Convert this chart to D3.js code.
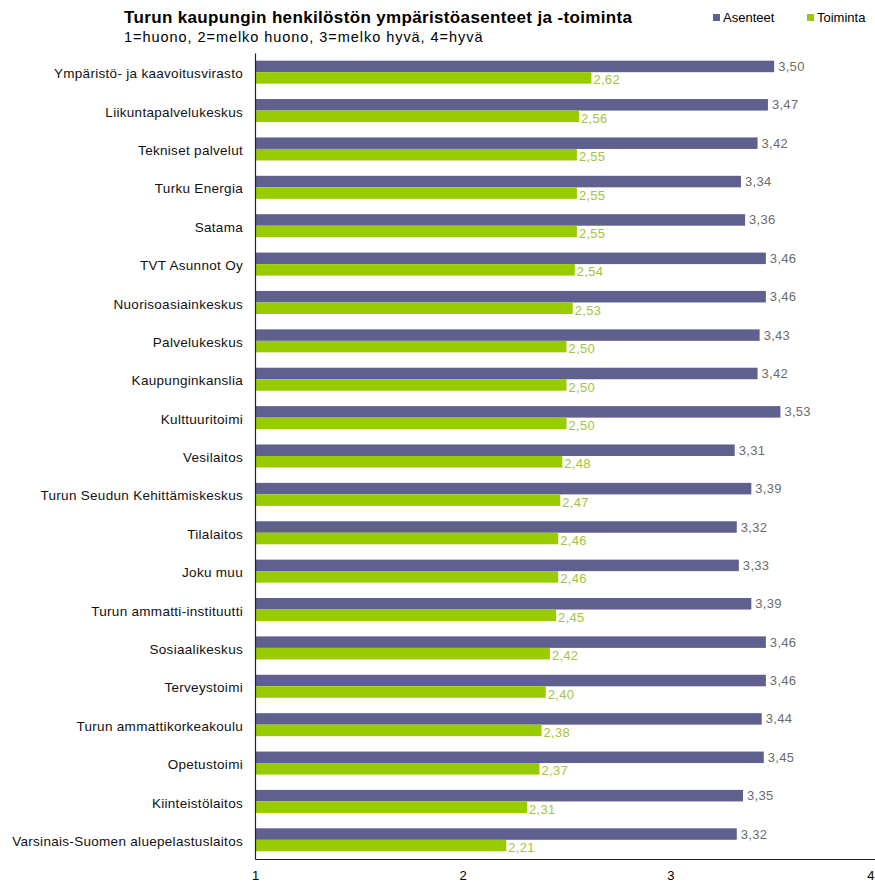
<!DOCTYPE html>
<html>
<head>
<meta charset="utf-8">
<script src="https://cdn.jsdelivr.net/npm/d3@7"></script>
<style>
  html, body { margin: 0; padding: 0; background: #fff; }
  svg { display: block; font-family: "Liberation Sans", Arial, sans-serif; }
</style>
</head>
<body>
<svg id="chart" width="875" height="883"></svg>
<script>
// Units (departments) of the City of Turku
const categories = [
  "Ympäristö- ja kaavoitusvirasto",
  "Liikuntapalvelukeskus",
  "Tekniset palvelut",
  "Turku Energia",
  "Satama",
  "TVT Asunnot Oy",
  "Nuorisoasiainkeskus",
  "Palvelukeskus",
  "Kaupunginkanslia",
  "Kulttuuritoimi",
  "Vesilaitos",
  "Turun Seudun Kehittämiskeskus",
  "Tilalaitos",
  "Joku muu",
  "Turun ammatti-instituutti",
  "Sosiaalikeskus",
  "Terveystoimi",
  "Turun ammattikorkeakoulu",
  "Opetustoimi",
  "Kiinteistölaitos",
  "Varsinais-Suomen aluepelastuslaitos"
];

const seriesNames = ["Asenteet", "Toiminta"];

// Mean attitude score
const asenteet = [3.50, 3.47, 3.42, 3.34, 3.36, 3.46, 3.46, 3.43, 3.42, 3.53, 3.31,
                  3.39, 3.32, 3.33, 3.39, 3.46, 3.46, 3.44, 3.45, 3.35, 3.32];
// Mean action score
const toiminta = [2.62, 2.56, 2.55, 2.55, 2.55, 2.54, 2.53, 2.50, 2.50, 2.50, 2.48,
                  2.47, 2.46, 2.46, 2.45, 2.42, 2.40, 2.38, 2.37, 2.31, 2.21];

const xTicks = [1, 2, 3, 4];

const titleText = "Turun kaupungin henkilöstön ympäristöasenteet ja -toiminta";
const subtitleText = "1=huono, 2=melko huono, 3=melko hyvä, 4=hyvä";

const colors = { Asenteet: "#60608f", Toiminta: "#99cc00" };
const labelColors = { Asenteet: "#6b6b6b", Toiminta: "#a3c43a" };

const fi = d3.formatLocale({ decimal: ",", thousands: "\u00a0", grouping: [3], currency: ["", " €"] });
const fmt = fi.format(".2f");

const rows = categories.map((c, i) => ({
  name: c,
  values: [
    { key: "Asenteet", value: asenteet[i] },
    { key: "Toiminta", value: toiminta[i] }
  ]
}));

const W = 875;
const svg = d3.select("#chart");

const plot = { left: 255, right: 878, top: 53, bottom: 859 };

const x = d3.scaleLinear().domain([1, 4]).range([plot.left, plot.right]);
const y = d3.scaleBand().domain(categories).range([plot.top, plot.bottom]).padding(0);
const ySub = d3.scaleBand().domain(seriesNames)
  .range([y.bandwidth() * 0.2, y.bandwidth() * 0.8]).padding(0);

// Title and subtitle
svg.append("text")
  .attr("x", 124).attr("y", 23)
  .attr("font-size", 17).attr("font-weight", "bold").attr("fill", "#000")
  .attr("letter-spacing", 0.35)
  .text(titleText);
svg.append("text")
  .attr("x", 124).attr("y", 42)
  .attr("font-size", 14.5).attr("fill", "#000")
  .attr("letter-spacing", 0.95)
  .text(subtitleText);

// Legend
const legend = svg.append("g");
const legendPos = [{ key: "Asenteet", x: 713, tx: 723 }, { key: "Toiminta", x: 807, tx: 817 }];
legendPos.forEach(d => {
  legend.append("rect").attr("x", d.x).attr("y", 14).attr("width", 7).attr("height", 7)
    .attr("fill", colors[d.key]);
  legend.append("text").attr("x", d.tx).attr("y", 22)
    .attr("font-size", 13).attr("fill", "#000").text(d.key);
});

// Bars
const groups = svg.append("g").selectAll("g.row")
  .data(rows).join("g")
  .attr("class", "row")
  .attr("transform", d => `translate(0,${y(d.name)})`);

groups.selectAll("rect")
  .data(d => d.values).join("rect")
  .attr("x", x(1))
  .attr("y", d => ySub(d.key))
  .attr("width", d => x(d.value) - x(1))
  .attr("height", ySub.bandwidth())
  .attr("fill", d => colors[d.key]);

// Value labels
groups.selectAll("text.val")
  .data(d => d.values).join("text")
  .attr("class", "val")
  .attr("x", d => x(d.value) + (d.key === "Asenteet" ? 4 : 2))
  .attr("y", d => ySub(d.key) + ySub.bandwidth() / 2 + (d.key === "Asenteet" ? 0 : 2))
  .attr("dy", "0.35em")
  .attr("font-size", 13)
  .attr("letter-spacing", 0.3)
  .attr("fill", d => labelColors[d.key])
  .text(d => fmt(d.value));

// Category axis
const yAxis = svg.append("g")
  .attr("transform", `translate(${plot.left},0)`)
  .call(d3.axisLeft(y).tickSize(0).tickPadding(12));
yAxis.select(".domain").attr("stroke", "#222").attr("stroke-width", 1.2);
yAxis.selectAll("text")
  .attr("font-size", 13.5).attr("fill", "#111")
  .attr("letter-spacing", 0.3)
  .attr("dy", "0.45em")
  .attr("font-family", "Liberation Sans, Arial, sans-serif");

// Value axis
const xAxis = svg.append("g")
  .attr("transform", `translate(0,${plot.bottom})`)
  .call(d3.axisBottom(x).tickValues(xTicks).tickSize(0).tickPadding(12).tickFormat(d3.format("d")));
xAxis.select(".domain").attr("stroke", "#222").attr("stroke-width", 1.2);
xAxis.selectAll("text")
  .attr("font-size", 13).attr("fill", "#000")
  .attr("font-family", "Liberation Sans, Arial, sans-serif");
// The last tick sits at the page edge: right-align its label so it stays inside
xAxis.selectAll(".tick")
  .filter(d => x(d) > W - 5)
  .select("text")
  .attr("text-anchor", "end")
  .attr("x", d => (W - 1) - x(d));
</script>
</body>
</html>
